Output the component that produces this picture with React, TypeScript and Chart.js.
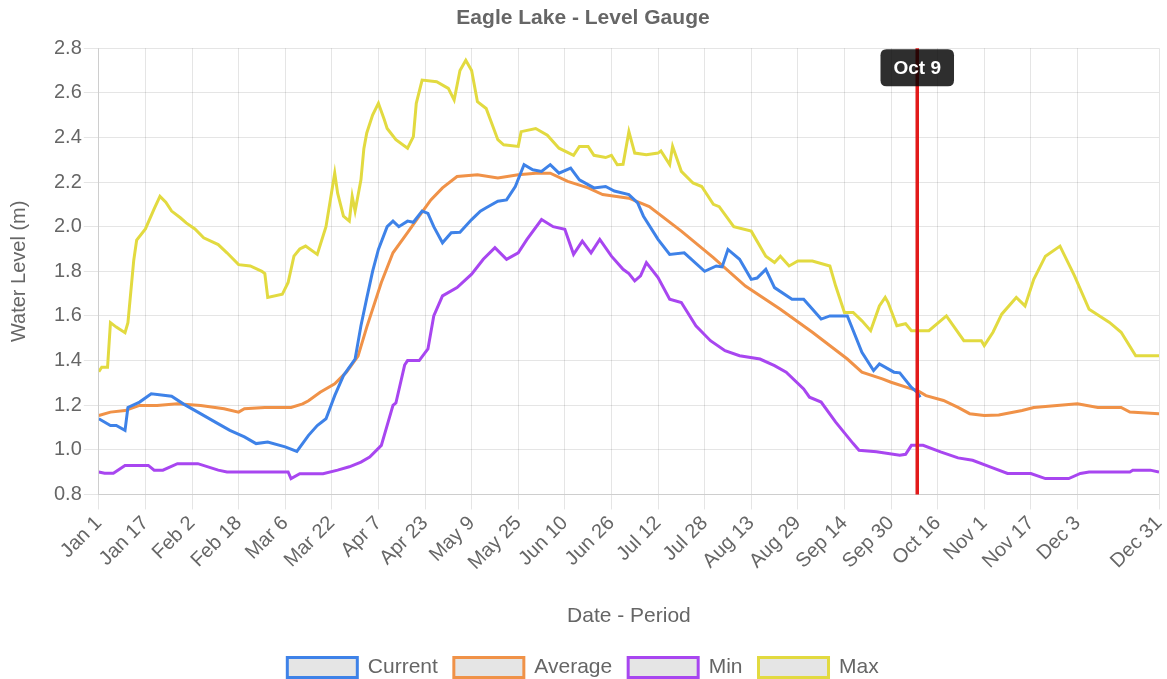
import React, { useEffect, useRef } from "react";
import { Chart, registerables } from "chart.js";

Chart.register(...registerables);

const chartTitle = "Eagle Lake - Level Gauge";
const yTitle = "Water Level (m)";
const xTitle = "Date - Period";

const tickDays = [0, 16, 32, 48, 64, 80, 96, 112, 128, 144, 160, 176, 192, 208, 224, 240, 256, 272, 288, 304, 320, 336, 364];
const tickLabels = ["Jan 1", "Jan 17", "Feb 2", "Feb 18", "Mar 6", "Mar 22", "Apr 7", "Apr 23", "May 9", "May 25", "Jun 10", "Jun 26", "Jul 12", "Jul 28", "Aug 13", "Aug 29", "Sep 14", "Sep 30", "Oct 16", "Nov 1", "Nov 17", "Dec 3", "Dec 31"];

const markerDay = 281;
const markerLabel = "Oct 9";

// [day of year (0 = Jan 1), water level in m]
const currentSeries: number[][] = [
  [0, 1.139], [4, 1.109], [6, 1.109], [9, 1.087], [10, 1.19], [14, 1.214], [18, 1.251], [25, 1.24], [29, 1.206], [34, 1.169],
  [40, 1.124], [45, 1.087], [50, 1.058], [54, 1.028], [58, 1.035], [64, 1.013], [68, 0.993], [72, 1.065], [75, 1.109], [78, 1.139],
  [81, 1.243], [84, 1.333], [88, 1.407], [90, 1.556], [92, 1.68], [94, 1.8], [96, 1.898], [99, 2.0], [101, 2.025], [103, 2.0],
  [106, 2.025], [108, 2.02], [111, 2.07], [113, 2.06], [115, 2.0], [118, 1.928], [121, 1.973], [124, 1.975], [128, 2.032], [131, 2.07],
  [133, 2.085], [137, 2.114], [140, 2.12], [143, 2.18], [146, 2.278], [149, 2.255], [152, 2.248], [155, 2.278], [158, 2.24], [162, 2.263],
  [165, 2.21], [170, 2.174], [174, 2.18], [177, 2.16], [182, 2.144], [185, 2.107], [187, 2.047], [192, 1.943], [196, 1.876], [201, 1.883],
  [208, 1.8], [212, 1.824], [214, 1.82], [216, 1.898], [220, 1.854], [224, 1.764], [226, 1.77], [229, 1.809], [232, 1.727], [238, 1.675],
  [242, 1.675], [248, 1.586], [251, 1.6], [257, 1.6], [262, 1.437], [266, 1.355], [268, 1.385], [273, 1.348], [275, 1.345], [279, 1.28],
  [281, 1.258], [282, 1.236],
];

const averageSeries: number[][] = [
  [0, 1.154], [4, 1.169], [9, 1.176], [14, 1.199], [20, 1.199], [27, 1.206], [35, 1.199], [43, 1.184], [48, 1.169], [50, 1.184],
  [57, 1.19], [66, 1.19], [70, 1.206], [72, 1.22], [76, 1.258], [81, 1.296], [85, 1.348], [89, 1.42], [92, 1.55], [97, 1.75],
  [101, 1.883], [106, 1.973], [110, 2.047], [114, 2.12], [118, 2.174], [123, 2.225], [130, 2.233], [137, 2.218], [144, 2.233], [150, 2.24],
  [155, 2.24], [161, 2.203], [168, 2.174], [173, 2.144], [182, 2.128], [189, 2.09], [200, 1.98], [211, 1.861], [222, 1.734], [234, 1.63],
  [245, 1.527], [257, 1.407], [262, 1.348], [269, 1.318], [272, 1.303], [279, 1.273], [281, 1.266], [284, 1.243], [290, 1.221], [295, 1.19],
  [299, 1.162], [304, 1.154], [309, 1.156], [317, 1.176], [321, 1.19], [329, 1.199], [336, 1.206], [343, 1.19], [351, 1.19], [354, 1.169],
  [364, 1.162],
];

const minSeries: number[][] = [
  [0, 0.901], [2, 0.895], [5, 0.895], [9, 0.93], [17, 0.93], [19, 0.909], [22, 0.909], [27, 0.938], [34, 0.938], [41, 0.909],
  [44, 0.901], [51, 0.901], [65, 0.901], [66, 0.871], [69, 0.893], [77, 0.893], [82, 0.909], [86, 0.924], [90, 0.945], [93, 0.968],
  [97, 1.02], [101, 1.199], [102, 1.21], [105, 1.38], [106, 1.4], [110, 1.4], [113, 1.452], [115, 1.6], [118, 1.69], [123, 1.727],
  [128, 1.787], [132, 1.854], [136, 1.906], [140, 1.854], [144, 1.883], [147, 1.943], [152, 2.032], [156, 2.0], [160, 1.988], [163, 1.876],
  [166, 1.935], [169, 1.883], [172, 1.943], [176, 1.868], [180, 1.809], [182, 1.79], [184, 1.757], [186, 1.78], [188, 1.839], [192, 1.772],
  [196, 1.675], [200, 1.66], [205, 1.556], [210, 1.489], [215, 1.444], [220, 1.422], [227, 1.407], [232, 1.377], [236, 1.348], [242, 1.273],
  [244, 1.236], [248, 1.214], [253, 1.124], [259, 1.028], [261, 0.998], [267, 0.991], [275, 0.976], [277, 0.98], [279, 1.02], [283, 1.02],
  [289, 0.991], [295, 0.964], [300, 0.953], [306, 0.924], [312, 0.894], [320, 0.894], [325, 0.871], [333, 0.871], [337, 0.894], [340, 0.901],
  [354, 0.901], [355, 0.909], [361, 0.909], [364, 0.9],
];

const maxSeries: number[][] = [
  [0, 1.35], [1, 1.37], [3, 1.37], [4, 1.57], [6, 1.55], [9, 1.525], [10, 1.57], [12, 1.85], [13, 1.94], [16, 1.99],
  [19, 2.08], [21, 2.136], [23, 2.11], [25, 2.07], [28, 2.04], [30, 2.017], [33, 1.99], [36, 1.95], [41, 1.92], [44, 1.883],
  [48, 1.83], [52, 1.824], [56, 1.8], [57, 1.79], [58, 1.683], [63, 1.697], [65, 1.75], [67, 1.868], [69, 1.9], [71, 1.913],
  [75, 1.876], [78, 2.0], [81, 2.24], [82, 2.15], [84, 2.047], [86, 2.025], [87, 2.136], [88, 2.07], [90, 2.21], [91, 2.35],
  [92, 2.42], [94, 2.5], [96, 2.553], [98, 2.48], [99, 2.44], [102, 2.39], [106, 2.352], [108, 2.404], [109, 2.553], [111, 2.657],
  [116, 2.65], [120, 2.62], [122, 2.568], [124, 2.7], [126, 2.746], [128, 2.7], [130, 2.56], [133, 2.53], [137, 2.39], [139, 2.367],
  [144, 2.36], [145, 2.426], [150, 2.44], [154, 2.41], [158, 2.352], [163, 2.32], [165, 2.36], [168, 2.36], [170, 2.32], [174, 2.31],
  [176, 2.32], [178, 2.278], [180, 2.28], [182, 2.426], [184, 2.33], [188, 2.322], [192, 2.33], [193, 2.34], [196, 2.278], [197, 2.36],
  [200, 2.248], [204, 2.196], [207, 2.18], [211, 2.1], [213, 2.09], [218, 2.0], [224, 1.98], [229, 1.868], [232, 1.84], [234, 1.868],
  [237, 1.824], [240, 1.846], [245, 1.846], [251, 1.824], [253, 1.734], [256, 1.616], [259, 1.616], [262, 1.578], [265, 1.534], [268, 1.645],
  [270, 1.683], [271, 1.66], [274, 1.556], [277, 1.565], [279, 1.534], [285, 1.534], [291, 1.6], [297, 1.489], [303, 1.489], [304, 1.467],
  [307, 1.527], [310, 1.608], [315, 1.683], [318, 1.645], [321, 1.764], [325, 1.868], [330, 1.913], [335, 1.78], [340, 1.63], [347, 1.571],
  [351, 1.527], [356, 1.422], [364, 1.422],
];

const seriesNames = ["Current", "Average", "Min", "Max"];
const seriesColors = ["rgb(62,130,232)", "rgb(240,146,72)", "rgb(168,70,240)", "rgb(226,218,64)"];

const FONT = "Arial, 'Liberation Sans', Helvetica, sans-serif";

const markerPlugin = {
  id: "dateMarker",
  afterDatasetsDraw(chart: any) {
    const { ctx, chartArea, scales } = chart;
    const x = scales.x.getPixelForValue(markerDay);
    ctx.save();
    ctx.strokeStyle = "rgb(226,26,26)";
    ctx.lineWidth = 3.5;
    ctx.beginPath();
    ctx.moveTo(x, chartArea.top);
    ctx.lineTo(x, chartArea.bottom);
    ctx.stroke();

    ctx.font = `bold 19px ${FONT}`;
    const tw = ctx.measureText(markerLabel).width;
    const w = tw + 26;
    const h = 37;
    const bx = x - w / 2;
    const by = chartArea.top + 1;
    const r = 6;
    ctx.fillStyle = "rgba(0,0,0,0.82)";
    ctx.beginPath();
    ctx.moveTo(bx + r, by);
    ctx.lineTo(bx + w - r, by);
    ctx.quadraticCurveTo(bx + w, by, bx + w, by + r);
    ctx.lineTo(bx + w, by + h - r);
    ctx.quadraticCurveTo(bx + w, by + h, bx + w - r, by + h);
    ctx.lineTo(bx + r, by + h);
    ctx.quadraticCurveTo(bx, by + h, bx, by + h - r);
    ctx.lineTo(bx, by + r);
    ctx.quadraticCurveTo(bx, by, bx + r, by);
    ctx.closePath();
    ctx.fill();
    ctx.fillStyle = "#fff";
    ctx.textAlign = "center";
    ctx.textBaseline = "middle";
    ctx.fillText(markerLabel, x, by + h / 2 + 1);
    ctx.restore();
  },
};

export default function App() {
  const ref = useRef<HTMLCanvasElement | null>(null);

  useEffect(() => {
    document.body.style.margin = "0";
    document.body.style.overflow = "hidden";
    if (!ref.current) return;
    const all = [currentSeries, averageSeries, minSeries, maxSeries];
    const chart = new Chart(ref.current, {
      type: "line",
      data: {
        datasets: all.map((s, i) => ({
          label: seriesNames[i],
          data: s.map((p) => ({ x: p[0], y: p[1] })),
          borderColor: seriesColors[i],
          backgroundColor: "rgba(0,0,0,0.1)",
          borderWidth: 3,
          pointRadius: 0,
          tension: 0,
          fill: false,
        })),
      },
      options: {
        animation: false,
        responsive: true,
        maintainAspectRatio: false,
        layout: { padding: { left: 7, right: 8, top: 0, bottom: -9 } },
        plugins: {
          title: {
            display: true,
            text: chartTitle,
            color: "#666",
            font: { family: FONT, size: 21, weight: "bold" },
            padding: { top: 6, bottom: 17 },
          },
          legend: {
            position: "bottom",
            labels: {
              color: "#666",
              font: { family: FONT, size: 21 },
              boxWidth: 70,
              boxHeight: 20,
              padding: 16,
            },
          },
          tooltip: { enabled: false },
        },
        scales: {
          x: {
            type: "linear",
            min: 0,
            max: 364,
            afterBuildTicks: (scale: any) => {
              scale.ticks = tickDays.map((d) => ({ value: d }));
            },
            afterFit: (scale: any) => {
              scale.paddingRight = 0;
            },
            ticks: {
              color: "#666",
              font: { family: FONT, size: 20 },
              maxRotation: 45,
              minRotation: 45,
              autoSkip: false,
              padding: 2,
              callback: (v: any) => {
                const i = tickDays.indexOf(Number(v));
                return i >= 0 ? tickLabels[i] : "";
              },
            },
            grid: { color: "rgba(0,0,0,0.1)", tickLength: 15 },
            title: {
              display: true,
              text: xTitle,
              color: "#666",
              font: { family: FONT, size: 21 },
              padding: { top: 27, bottom: 12 },
            },
          },
          y: {
            min: 0.8,
            max: 2.8,
            ticks: {
              stepSize: 0.2,
              color: "#666",
              font: { family: FONT, size: 20 },
              padding: 2,
              callback: (v: any) => Number(v).toFixed(1),
            },
            grid: { color: "rgba(0,0,0,0.1)", tickLength: 15 },
            title: {
              display: true,
              text: yTitle,
              color: "#666",
              font: { family: FONT, size: 20 },
              padding: { top: 0, bottom: 21 },
            },
          },
        },
      },
      plugins: [markerPlugin],
    } as any);
    return () => chart.destroy();
  }, []);

  return (
    <div style={{ width: 1167, height: 679, position: "relative" }}>
      <canvas ref={ref} />
    </div>
  );
}
